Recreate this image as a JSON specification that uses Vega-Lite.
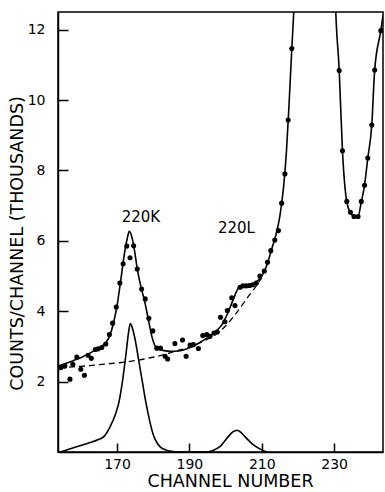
{
  "$schema": "https://vega.github.io/schema/vega-lite/v6.json",
  "width": 325,
  "height": 440,
  "autosize": "none",
  "padding": {"left": 58, "top": 12, "right": 2, "bottom": 40},
  "background": "white",
  "config": {
    "view": {"stroke": "black", "strokeWidth": 1.5},
    "axis": {"domainColor": "black", "tickColor": "black", "labelColor": "black", "titleColor": "black", "labelFont": "DejaVu Sans", "titleFont": "DejaVu Sans", "grid": false, "domainWidth": 1.5, "tickWidth": 1.5, "labelFontSize": 14, "titleFontSize": 17.5, "titleFontWeight": "normal"}
  },
  "datasets": {
    "fit": [
      {"ch": 154, "v": 2.45}, {"ch": 156, "v": 2.52}, {"ch": 158, "v": 2.6}, {"ch": 160, "v": 2.68}, {"ch": 162, "v": 2.78}, {"ch": 164, "v": 2.9}, {"ch": 166, "v": 3.02}, {"ch": 167, "v": 3.12}, {"ch": 168, "v": 3.3}, {"ch": 169, "v": 3.65}, {"ch": 170, "v": 4.15}, {"ch": 171, "v": 4.85}, {"ch": 172, "v": 5.6}, {"ch": 172.8, "v": 6.05}, {"ch": 173.4, "v": 6.27}, {"ch": 174, "v": 6.15}, {"ch": 174.8, "v": 5.75}, {"ch": 175.6, "v": 5.2}, {"ch": 176.6, "v": 4.7}, {"ch": 177.6, "v": 4.3}, {"ch": 178.6, "v": 3.8}, {"ch": 179.6, "v": 3.3}, {"ch": 180.6, "v": 3.0}, {"ch": 181.5, "v": 2.93}, {"ch": 183, "v": 2.88}, {"ch": 185, "v": 2.86}, {"ch": 187, "v": 2.87}, {"ch": 189, "v": 2.92}, {"ch": 191, "v": 3.0}, {"ch": 193, "v": 3.12}, {"ch": 195, "v": 3.25}, {"ch": 197, "v": 3.4}, {"ch": 199, "v": 3.62}, {"ch": 200.5, "v": 3.92}, {"ch": 202, "v": 4.3}, {"ch": 203.5, "v": 4.65}, {"ch": 204.5, "v": 4.72}, {"ch": 206, "v": 4.74}, {"ch": 207.5, "v": 4.77}, {"ch": 209, "v": 4.88}, {"ch": 210, "v": 5.0}, {"ch": 211, "v": 5.2}, {"ch": 212, "v": 5.5}, {"ch": 213, "v": 5.85}, {"ch": 214, "v": 6.2}, {"ch": 215, "v": 6.7}, {"ch": 216, "v": 7.5}, {"ch": 216.8, "v": 8.5}, {"ch": 217.5, "v": 9.8}, {"ch": 218.3, "v": 11.45}, {"ch": 219.1, "v": 13}, {"ch": 220, "v": 15}, {"ch": 230, "v": 15}, {"ch": 230.3, "v": 13}, {"ch": 231.4, "v": 10.84}, {"ch": 232.3, "v": 8.56}, {"ch": 233.5, "v": 7.1}, {"ch": 234.5, "v": 6.8}, {"ch": 235.5, "v": 6.7}, {"ch": 236.6, "v": 6.7}, {"ch": 237.5, "v": 7.1}, {"ch": 238.4, "v": 7.58}, {"ch": 239.3, "v": 8.35}, {"ch": 240.4, "v": 9.29}, {"ch": 241.2, "v": 10.85}, {"ch": 242.9, "v": 11.97}, {"ch": 243.5, "v": 12.4}
    ],
    "bg": [
      {"ch": 154, "v": 2.38}, {"ch": 158, "v": 2.42}, {"ch": 162, "v": 2.45}, {"ch": 166, "v": 2.49}, {"ch": 170, "v": 2.53}, {"ch": 174, "v": 2.58}, {"ch": 178, "v": 2.65}, {"ch": 182, "v": 2.74}, {"ch": 186, "v": 2.86}, {"ch": 190, "v": 2.98}, {"ch": 194, "v": 3.15}, {"ch": 197, "v": 3.32}, {"ch": 200, "v": 3.58}, {"ch": 203, "v": 3.95}, {"ch": 206, "v": 4.38}, {"ch": 208, "v": 4.65}, {"ch": 210, "v": 4.95}
    ],
    "comp": [
      {"ch": 154.3, "v": 0}, {"ch": 158, "v": 0.12}, {"ch": 162, "v": 0.25}, {"ch": 165, "v": 0.36}, {"ch": 166.5, "v": 0.45}, {"ch": 168, "v": 0.7}, {"ch": 169.5, "v": 1.05}, {"ch": 170.5, "v": 1.4}, {"ch": 171.5, "v": 2.0}, {"ch": 172.5, "v": 2.8}, {"ch": 173.2, "v": 3.4}, {"ch": 173.7, "v": 3.65}, {"ch": 174.3, "v": 3.5}, {"ch": 175, "v": 3.2}, {"ch": 176, "v": 2.6}, {"ch": 177, "v": 2.0}, {"ch": 178, "v": 1.4}, {"ch": 179, "v": 0.9}, {"ch": 180, "v": 0.5}, {"ch": 181, "v": 0.27}, {"ch": 182, "v": 0.14}, {"ch": 183.5, "v": 0.06}, {"ch": 185, "v": 0.02}, {"ch": 187, "v": 0.0}, {"ch": 195, "v": 0.0}, {"ch": 196.5, "v": 0.04}, {"ch": 198.4, "v": 0.15}, {"ch": 200.7, "v": 0.43}, {"ch": 202, "v": 0.57}, {"ch": 203.2, "v": 0.62}, {"ch": 204.3, "v": 0.55}, {"ch": 205.4, "v": 0.43}, {"ch": 207.7, "v": 0.2}, {"ch": 210, "v": 0.06}, {"ch": 211.5, "v": 0.0}
    ],
    "dots": [
      {"ch": 154.5, "v": 2.40}, {"ch": 155.6, "v": 2.44}, {"ch": 157.0, "v": 2.07}, {"ch": 157.8, "v": 2.49}, {"ch": 158.9, "v": 2.70}, {"ch": 160.0, "v": 2.35}, {"ch": 161.0, "v": 2.18}, {"ch": 162.0, "v": 2.75}, {"ch": 162.9, "v": 2.66}, {"ch": 164.0, "v": 2.91}, {"ch": 164.8, "v": 2.93}, {"ch": 165.8, "v": 2.97}, {"ch": 166.9, "v": 3.07}, {"ch": 167.9, "v": 3.34}, {"ch": 168.8, "v": 3.66}, {"ch": 169.8, "v": 4.12}, {"ch": 170.8, "v": 4.80}, {"ch": 171.7, "v": 5.35}, {"ch": 172.7, "v": 5.85}, {"ch": 173.6, "v": 5.52}, {"ch": 174.6, "v": 5.86}, {"ch": 175.6, "v": 5.20}, {"ch": 176.8, "v": 4.63}, {"ch": 177.8, "v": 4.35}, {"ch": 178.8, "v": 3.80}, {"ch": 179.9, "v": 3.44}, {"ch": 181.0, "v": 2.95}, {"ch": 182.0, "v": 2.95}, {"ch": 183.3, "v": 2.72}, {"ch": 184.0, "v": 2.64}, {"ch": 186.0, "v": 3.08}, {"ch": 188.1, "v": 3.18}, {"ch": 189.1, "v": 2.72}, {"ch": 190.2, "v": 3.04}, {"ch": 191.1, "v": 3.05}, {"ch": 192.5, "v": 2.94}, {"ch": 193.7, "v": 3.31}, {"ch": 194.8, "v": 3.34}, {"ch": 195.7, "v": 3.29}, {"ch": 196.8, "v": 3.38}, {"ch": 197.7, "v": 3.41}, {"ch": 198.6, "v": 3.83}, {"ch": 199.8, "v": 3.70}, {"ch": 200.5, "v": 4.02}, {"ch": 201.7, "v": 4.38}, {"ch": 202.6, "v": 4.16}, {"ch": 204.0, "v": 4.68}, {"ch": 204.8, "v": 4.72}, {"ch": 205.7, "v": 4.72}, {"ch": 206.6, "v": 4.73}, {"ch": 207.5, "v": 4.75}, {"ch": 208.5, "v": 4.80}, {"ch": 209.5, "v": 5.00}, {"ch": 210.7, "v": 5.14}, {"ch": 211.6, "v": 5.39}, {"ch": 212.5, "v": 5.72}, {"ch": 213.6, "v": 6.02}, {"ch": 214.6, "v": 6.29}, {"ch": 215.5, "v": 7.07}, {"ch": 216.4, "v": 7.90}, {"ch": 217.3, "v": 9.43}, {"ch": 218.3, "v": 11.46}, {"ch": 231.4, "v": 10.84}, {"ch": 232.3, "v": 8.56}, {"ch": 233.5, "v": 7.12}, {"ch": 234.5, "v": 6.81}, {"ch": 235.5, "v": 6.69}, {"ch": 236.6, "v": 6.69}, {"ch": 237.5, "v": 7.12}, {"ch": 238.4, "v": 7.58}, {"ch": 239.3, "v": 8.35}, {"ch": 240.4, "v": 9.29}, {"ch": 241.2, "v": 10.85}, {"ch": 242.9, "v": 11.97}
    ],
    "notes": [
      {"ch": 176.6, "v": 6.67, "text": "220K"},
      {"ch": 203.0, "v": 6.36, "text": "220L"}
    ],
    "rticks": [
      {"v": 2}, {"v": 4}, {"v": 6}, {"v": 8}, {"v": 10}, {"v": 12}
    ]
  },
  "encoding": {
    "x": {"field": "ch", "type": "quantitative", "scale": {"domain": [153.7, 243.5], "nice": false, "zero": false},
      "axis": {"title": "CHANNEL NUMBER", "values": [170, 190, 210, 230], "tickSize": -9, "labelPadding": 14, "titlePadding": 1, "titleX": 172, "labelFlush": false}},
    "y": {"field": "v", "type": "quantitative", "scale": {"domain": [0, 12.5], "nice": false, "zero": true},
      "axis": {"title": "COUNTS/CHANNEL (THOUSANDS)", "values": [2, 4, 6, 8, 10, 12], "tickSize": -10, "labelPadding": 23, "titlePadding": 1, "titleY": 231, "labelFlush": false}}
  },
  "layer": [
    {
      "data": {"name": "fit"},
      "mark": {"type": "line", "color": "black", "strokeWidth": 1.6, "interpolate": "monotone", "clip": true}
    },
    {
      "data": {"name": "bg"},
      "mark": {"type": "line", "color": "black", "strokeWidth": 1.3, "strokeDash": [6, 4], "interpolate": "monotone", "clip": true}
    },
    {
      "data": {"name": "comp"},
      "mark": {"type": "line", "color": "black", "strokeWidth": 1.6, "interpolate": "monotone", "clip": true}
    },
    {
      "data": {"name": "dots"},
      "mark": {"type": "point", "filled": true, "color": "black", "size": 26, "opacity": 1, "clip": true}
    },
    {
      "data": {"name": "rticks"},
      "mark": {"type": "rule", "color": "black", "strokeWidth": 1.5},
      "encoding": {"x": {"datum": 241.3}, "x2": {"datum": 243.5}}
    },
    {
      "data": {"name": "notes"},
      "mark": {"type": "text", "font": "DejaVu Sans", "fontSize": 15, "color": "black", "align": "center", "baseline": "middle"},
      "encoding": {"text": {"field": "text"}}
    }
  ]
}
